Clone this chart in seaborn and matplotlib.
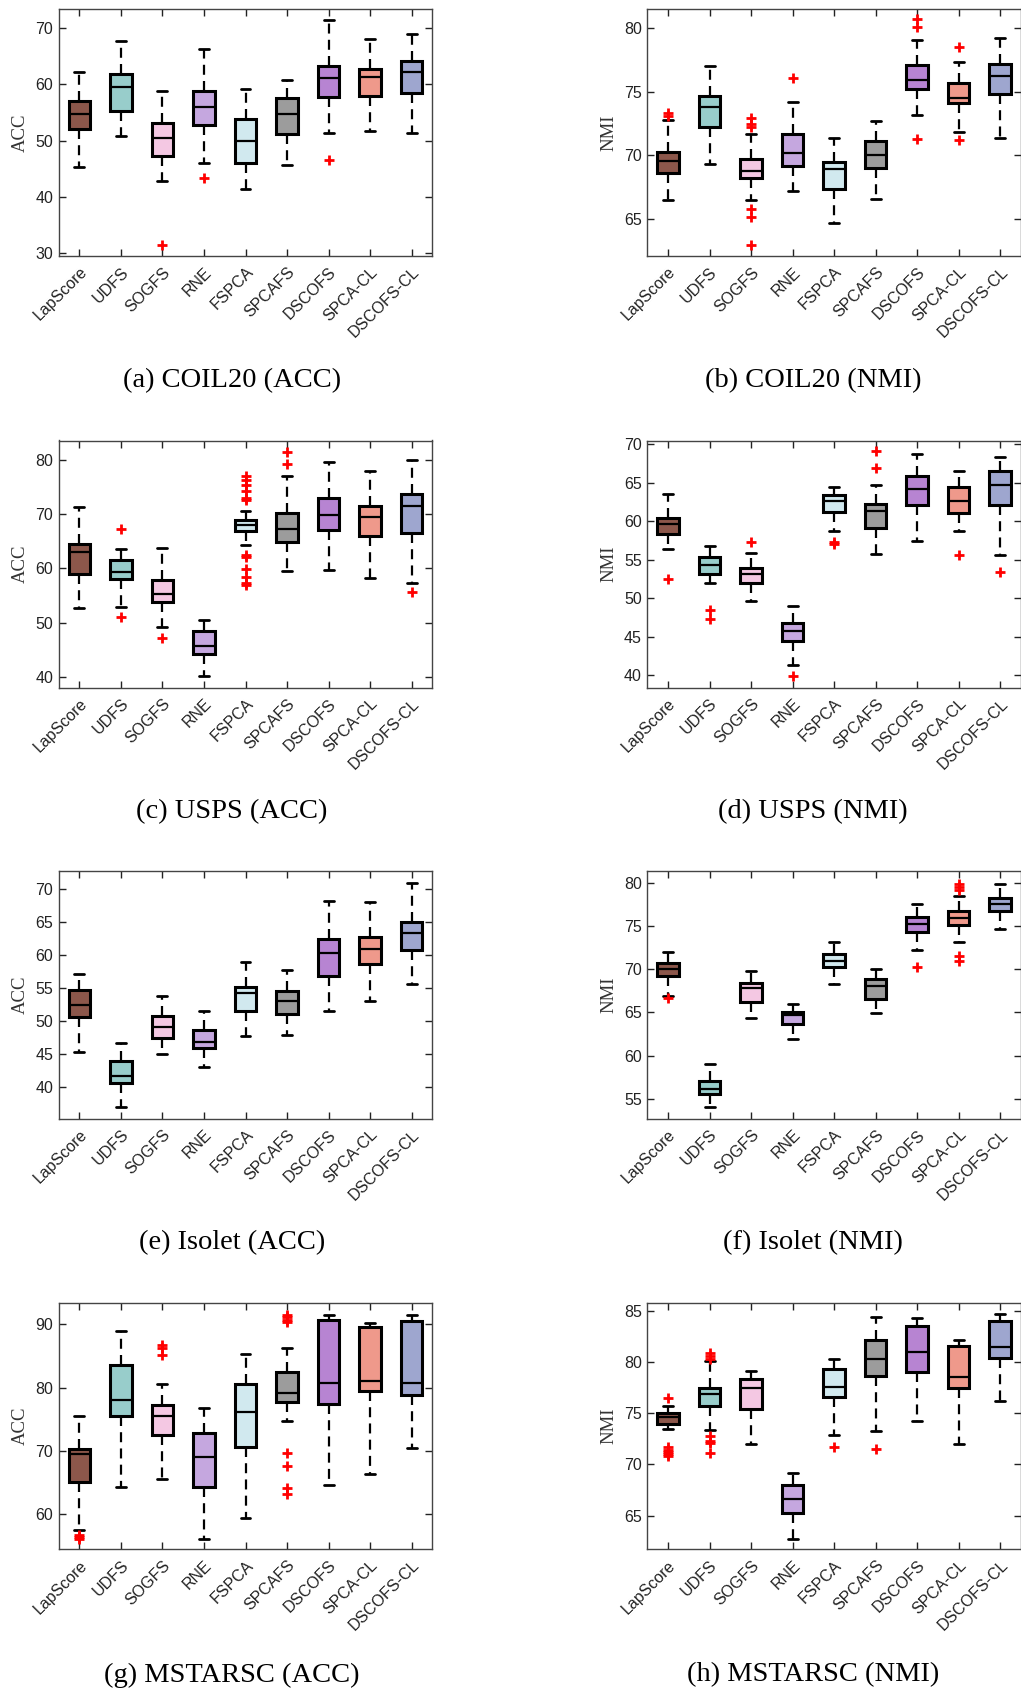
import numpy as np
import pandas as pd
import matplotlib
matplotlib.use("Agg")
import matplotlib.pyplot as plt
import seaborn as sns

methods = ["LapScore", "UDFS", "SOGFS", "RNE", "FSPCA", "SPCAFS", "DSCOFS", "SPCA-CL", "DSCOFS-CL"]
colors = ["#8C574B", "#98CDCB", "#F4C8E3", "#C5A7DF", "#D1E9EF",
          "#9C9C9C", "#B784D2", "#EF998B", "#9EA6CF"]

# each row: [lower whisker, Q1, median, Q3, upper whisker]
coil20_acc = [[45.4, 52.1, 54.8, 57.1, 62.2], [50.9, 55.3, 59.5, 61.8, 67.8],
              [42.8, 47.2, 50.4, 53.2, 58.8], [46.0, 52.8, 56.0, 58.9, 66.3],
              [41.4, 46.0, 49.9, 53.9, 59.1], [45.7, 51.2, 54.8, 57.5, 60.7],
              [51.4, 57.7, 61.1, 63.3, 71.4], [51.7, 57.9, 61.4, 62.7, 68.0],
              [51.4, 58.4, 62.2, 64.1, 68.9]]
coil20_acc_out = [[], [], [31.5], [43.4], [], [], [46.5], [], []]

coil20_nmi = [[66.5, 68.6, 69.6, 70.3, 72.8], [69.3, 72.2, 73.8, 74.7, 77.0],
              [66.5, 68.2, 68.8, 69.7, 71.7], [67.2, 69.2, 70.2, 71.7, 74.2],
              [64.7, 67.4, 68.9, 69.5, 71.4], [66.6, 69.0, 70.0, 71.1, 72.7],
              [73.2, 75.2, 75.9, 77.1, 79.1], [71.8, 74.1, 74.5, 75.7, 77.3],
              [71.4, 74.8, 76.2, 77.2, 79.2]]
coil20_nmi_out = [[73.1, 73.3], [], [72.2, 72.5, 72.9, 65.8, 65.2, 63.0], [76.1], [], [],
                  [80.1, 80.7, 71.3], [78.5, 71.2], []]

usps_acc = [[52.6, 59.0, 63.0, 64.4, 71.2], [52.9, 58.0, 59.3, 61.5, 63.6],
            [49.2, 53.8, 55.3, 57.9, 63.7], [40.1, 44.2, 45.7, 48.4, 50.5],
            [64.3, 66.9, 68.0, 68.9, 70.5], [59.5, 64.8, 67.2, 70.1, 76.9],
            [59.6, 67.1, 69.8, 73.0, 79.5], [58.1, 65.9, 69.5, 71.4, 77.9],
            [57.3, 66.5, 71.5, 73.6, 79.9]]
usps_acc_out = [[], [67.3, 51.1], [47.2], [],
                [77.0, 76.2, 75.4, 74.2, 73.0, 72.6, 62.4, 62.0, 59.9, 58.4, 57.3, 56.9],
                [81.3, 79.2], [], [], [55.7]]

usps_nmi = [[56.4, 58.3, 59.7, 60.4, 63.5], [52.0, 53.1, 54.3, 55.4, 56.8],
            [49.6, 52.0, 53.2, 53.9, 55.9], [41.4, 44.5, 45.8, 46.8, 49.0],
            [58.8, 61.2, 62.7, 63.4, 64.4], [55.7, 59.2, 61.3, 62.3, 64.7],
            [57.4, 62.1, 64.2, 65.9, 68.8], [58.7, 61.1, 62.6, 64.4, 66.6],
            [55.6, 62.1, 64.7, 66.5, 68.3]]
usps_nmi_out = [[52.5], [48.5, 47.3], [57.3], [39.9], [57.3, 57.1], [69.1, 66.9], [], [55.6], [53.4]]

isolet_acc = [[45.3, 50.6, 52.4, 54.7, 57.2], [36.9, 40.6, 41.7, 44.0, 46.7],
              [45.0, 47.5, 49.1, 50.8, 53.8], [43.1, 46.0, 46.9, 48.7, 51.5],
              [47.7, 51.6, 54.3, 55.2, 58.9], [47.9, 51.1, 53.0, 54.6, 57.7],
              [51.6, 56.9, 60.3, 62.4, 68.2], [53.1, 58.6, 60.9, 62.7, 68.0],
              [55.7, 60.8, 63.3, 65.1, 71.0]]
isolet_acc_out = [[], [], [], [], [], [], [], [], []]

isolet_nmi = [[66.9, 69.2, 70.0, 70.7, 72.0], [54.0, 55.5, 56.1, 57.1, 59.0],
              [64.3, 66.2, 67.8, 68.4, 69.8], [61.9, 63.6, 64.7, 65.1, 66.0],
              [68.3, 70.2, 70.9, 71.8, 73.2], [64.9, 66.6, 68.0, 68.9, 70.0],
              [72.2, 74.3, 75.2, 76.0, 77.5], [73.2, 75.1, 75.9, 76.7, 78.5],
              [74.6, 76.7, 77.5, 78.2, 79.9]]
isolet_nmi_out = [[66.7], [], [], [], [], [], [70.2], [79.9, 79.5, 79.2, 71.5, 70.9], []]

mstarsc_acc = [[57.6, 65.1, 69.5, 70.4, 75.5], [64.4, 75.6, 78.0, 83.5, 89.0],
               [65.6, 72.5, 75.6, 77.2, 80.6], [56.1, 64.4, 69.1, 72.8, 76.8],
               [59.5, 70.7, 76.1, 80.6, 85.3], [74.7, 77.7, 79.1, 82.5, 86.3],
               [64.6, 77.4, 80.7, 90.7, 91.5], [66.3, 79.4, 81.1, 89.6, 90.2],
               [70.5, 78.9, 80.8, 90.5, 91.4]]
mstarsc_acc_out = [[56.8, 56.5, 56.2], [], [86.8, 86.3, 85.2], [], [],
                   [91.5, 91.1, 90.7, 90.4, 69.7, 67.6, 64.1, 63.3], [], [], []]

mstarsc_nmi = [[73.5, 73.9, 74.6, 75.0, 75.7], [73.4, 75.7, 76.9, 77.5, 80.1],
               [72.0, 75.4, 77.5, 78.3, 79.1], [62.7, 65.2, 66.6, 68.0, 69.2],
               [72.9, 76.6, 77.6, 79.3, 80.3], [73.3, 78.6, 80.3, 82.2, 84.4],
               [74.2, 79.0, 81.0, 83.5, 84.3], [72.0, 77.5, 78.5, 81.6, 82.2],
               [76.2, 80.4, 81.5, 84.0, 84.7]]
mstarsc_nmi_out = [[76.5, 71.7, 71.4, 71.2, 71.0, 70.8],
                   [80.9, 80.6, 80.3, 72.75, 72.3, 72.1, 71.1], [], [], [71.7], [71.5], [], [], []]

captions = ["(a) COIL20 (ACC)", "(b) COIL20 (NMI)", "(c) USPS (ACC)", "(d) USPS (NMI)",
            "(e) Isolet (ACC)", "(f) Isolet (NMI)", "(g) MSTARSC (ACC)", "(h) MSTARSC (NMI)"]
ylabels = ["ACC", "NMI"] * 4
ylims = [(29.5, 73.4), (62.1, 81.5), (38.0, 83.5), (38.4, 70.5),
         (35.2, 72.7), (52.7, 81.3), (54.5, 93.4), (61.7, 85.8)]
yticks = [[30, 40, 50, 60, 70], [65, 70, 75, 80], [40, 50, 60, 70, 80], [40, 45, 50, 55, 60, 65, 70],
          [40, 45, 50, 55, 60, 65, 70], [55, 60, 65, 70, 75, 80], [60, 70, 80, 90], [65, 70, 75, 80, 85]]

panels = [(coil20_acc, coil20_acc_out), (coil20_nmi, coil20_nmi_out),
          (usps_acc, usps_acc_out), (usps_nmi, usps_nmi_out),
          (isolet_acc, isolet_acc_out), (isolet_nmi, isolet_nmi_out),
          (mstarsc_acc, mstarsc_acc_out), (mstarsc_nmi, mstarsc_nmi_out)]

sns.set_style("ticks")
plt.rcParams["font.family"] = ["Liberation Sans", "DejaVu Sans"]

W, H = 1021, 1692
fig = plt.figure(figsize=(W / 100, H / 100), dpi=100)

# axes boxes in pixels: left, top, bottom
lefts = [58.7, 647.3]
rows = [(9, 256), (440.5, 687.7), (871.5, 1118.7), (1302.7, 1549.3)]
axw = 373.6
cap_x = [232, 813]
cap_y = [381, 812, 1243, 1675]

palette = dict(zip(methods, colors))

for k, (stats, outs) in enumerate(panels):
    r, c = divmod(k, 2)
    top, bot = rows[r]
    ax = fig.add_axes([lefts[c] / W, 1 - bot / H, axw / W, (bot - top) / H])
    df = pd.DataFrame({"method": np.repeat(methods, 5), "value": np.ravel(stats)})
    sns.boxplot(data=df, x="method", y="value", hue="method", order=methods,
                hue_order=methods, palette=palette, legend=False, saturation=1,
                width=0.52, whis=(0, 100), linecolor="black", linewidth=2.2,
                whiskerprops=dict(linestyle=(0, (4.5, 2.8)), linewidth=1.6),
                capprops=dict(linewidth=2.0), medianprops=dict(linewidth=1.6),
                capwidths=0.24, ax=ax)
    for i, vals in enumerate(outs):
        if vals:
            ax.plot([i] * len(vals), vals, ls="none", marker="+", color="red",
                    ms=7, mew=2.0, zorder=5, clip_on=False)
    ax.set_xlim(-0.5, 8.5)
    ax.set_ylim(*ylims[k])
    ax.set_yticks(yticks[k])
    ax.set_xlabel("")
    ax.set_ylabel(ylabels[k], family=["Liberation Serif"], fontsize=13.5, color="#333333")
    ax.yaxis.set_label_coords(-30 / axw, 0.5)
    ax.tick_params(direction="in", length=5, width=1.0, top=True, right=True,
                   labelsize=11.5, colors="#222222", pad=4)
    ax.tick_params(axis="x", pad=6)
    for lab in ax.get_xticklabels():
        lab.set_rotation(45)
        lab.set_ha("right")
        lab.set_rotation_mode("anchor")
    for s in ax.spines.values():
        s.set_visible(True)
        s.set_color("#444444")
        s.set_linewidth(1.0)
    fig.text(cap_x[c] / W, 1 - cap_y[r] / H, captions[k], ha="center", va="center",
             family=["Liberation Serif"], fontsize=20.5, color="black")

fig.savefig("out.png", dpi=100)
